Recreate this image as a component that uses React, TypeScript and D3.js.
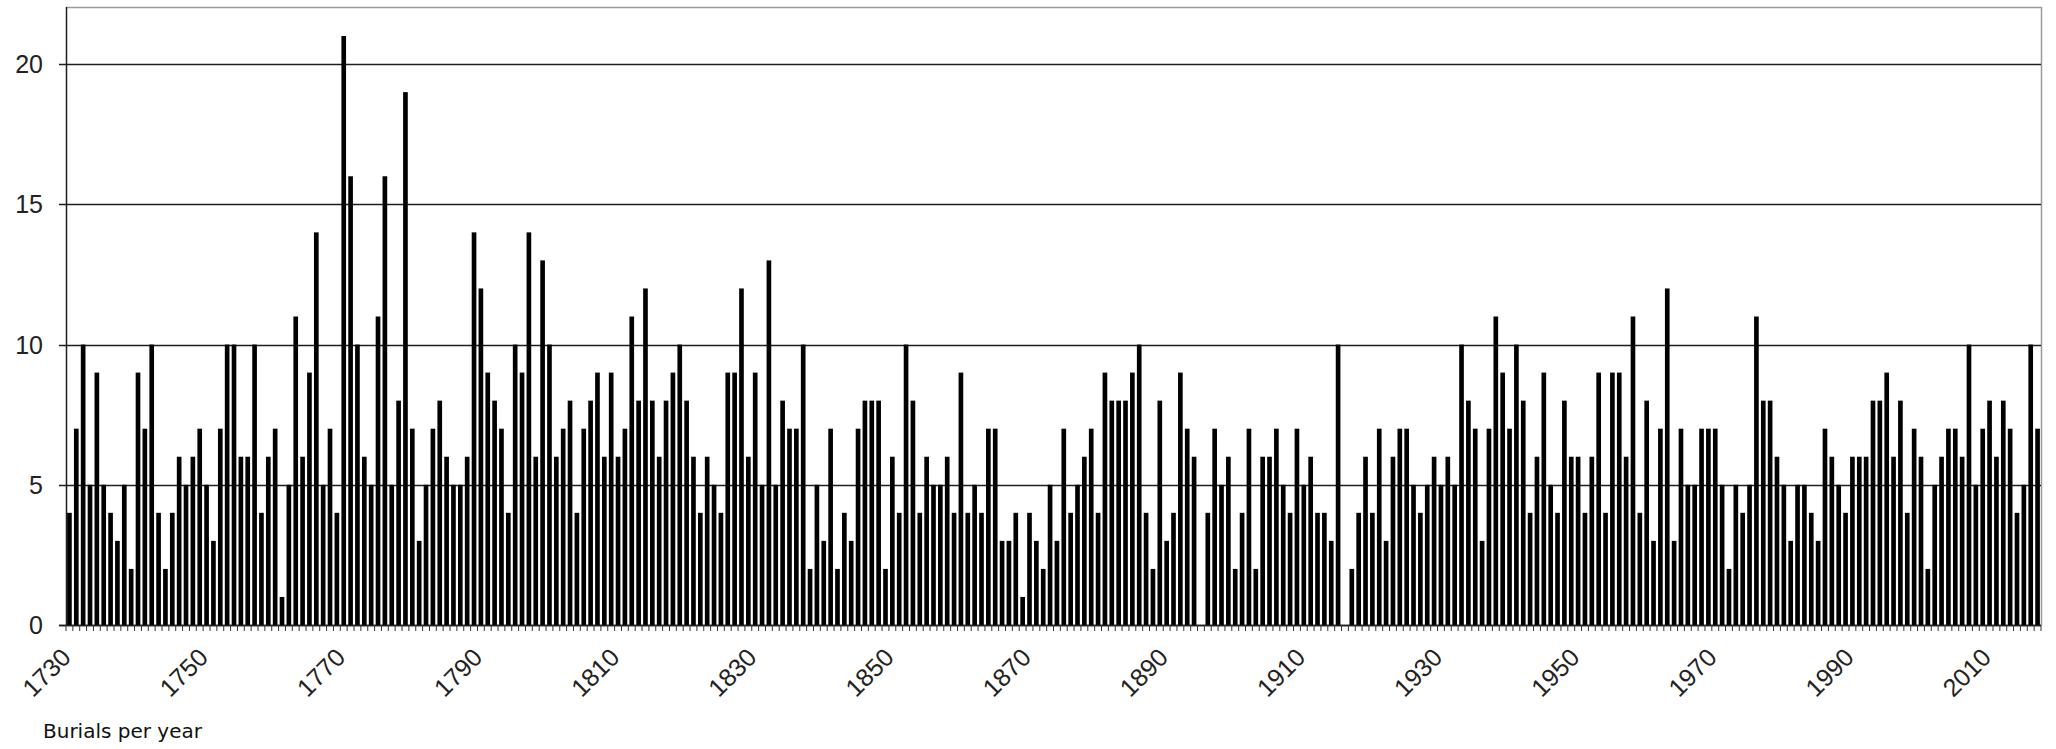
import React, { useEffect } from "react";
import * as d3 from "d3";

// Burials per year, one value per year from 1730 to 2017, grouped by decade
const burials1730s = [4, 7, 10, 5, 9, 5, 4, 3, 5, 2];
const burials1740s = [9, 7, 10, 4, 2, 4, 6, 5, 6, 7];
const burials1750s = [5, 3, 7, 10, 10, 6, 6, 10, 4, 6];
const burials1760s = [7, 1, 5, 11, 6, 9, 14, 5, 7, 4];
const burials1770s = [21, 16, 10, 6, 5, 11, 16, 5, 8, 19];
const burials1780s = [7, 3, 5, 7, 8, 6, 5, 5, 6, 14];
const burials1790s = [12, 9, 8, 7, 4, 10, 9, 14, 6, 13];
const burials1800s = [10, 6, 7, 8, 4, 7, 8, 9, 6, 9];
const burials1810s = [6, 7, 11, 8, 12, 8, 6, 8, 9, 10];
const burials1820s = [8, 6, 4, 6, 5, 4, 9, 9, 12, 6];
const burials1830s = [9, 5, 13, 5, 8, 7, 7, 10, 2, 5];
const burials1840s = [3, 7, 2, 4, 3, 7, 8, 8, 8, 2];
const burials1850s = [6, 4, 10, 8, 4, 6, 5, 5, 6, 4];
const burials1860s = [9, 4, 5, 4, 7, 7, 3, 3, 4, 1];
const burials1870s = [4, 3, 2, 5, 3, 7, 4, 5, 6, 7];
const burials1880s = [4, 9, 8, 8, 8, 9, 10, 4, 2, 8];
const burials1890s = [3, 4, 9, 7, 6, 0, 4, 7, 5, 6];
const burials1900s = [2, 4, 7, 2, 6, 6, 7, 5, 4, 7];
const burials1910s = [5, 6, 4, 4, 3, 10, 0, 2, 4, 6];
const burials1920s = [4, 7, 3, 6, 7, 7, 5, 4, 5, 6];
const burials1930s = [5, 6, 5, 10, 8, 7, 3, 7, 11, 9];
const burials1940s = [7, 10, 8, 4, 6, 9, 5, 4, 8, 6];
const burials1950s = [6, 4, 6, 9, 4, 9, 9, 6, 11, 4];
const burials1960s = [8, 3, 7, 12, 3, 7, 5, 5, 7, 7];
const burials1970s = [7, 5, 2, 5, 4, 5, 11, 8, 8, 6];
const burials1980s = [5, 3, 5, 5, 4, 3, 7, 6, 5, 4];
const burials1990s = [6, 6, 6, 8, 8, 9, 6, 8, 4, 7];
const burials2000s = [6, 2, 5, 6, 7, 7, 6, 10, 5, 7];
const burials2010s = [8, 6, 8, 7, 4, 5, 10, 7];

const firstYear = 1730;
const yTicks = [0, 5, 10, 15, 20];
const xLabelYears = [1730, 1750, 1770, 1790, 1810, 1830, 1850, 1870, 1890, 1910, 1930, 1950, 1970, 1990, 2010];
const caption = "Burials per year";

const values: number[] = [
  ...burials1730s, ...burials1740s, ...burials1750s, ...burials1760s, ...burials1770s,
  ...burials1780s, ...burials1790s, ...burials1800s, ...burials1810s, ...burials1820s,
  ...burials1830s, ...burials1840s, ...burials1850s, ...burials1860s, ...burials1870s,
  ...burials1880s, ...burials1890s, ...burials1900s, ...burials1910s, ...burials1920s,
  ...burials1930s, ...burials1940s, ...burials1950s, ...burials1960s, ...burials1970s,
  ...burials1980s, ...burials1990s, ...burials2000s, ...burials2010s,
];
const data = values.map((v, i) => ({ year: firstYear + i, value: v }));

const W = 2056;
const H = 749;
const left = 66;
const right = 2041;
const top = 7;
const bottom = 625;

export default function App() {
  useEffect(() => {
    document.body.style.margin = "0";
  }, []);

  const x = d3
    .scaleBand<number>()
    .domain(data.map((d) => d.year))
    .range([left, right])
    .paddingInner(0.32)
    .paddingOuter(0.16);

  const y = d3.scaleLinear().domain([0, 22]).range([bottom, top + 1]);

  const step = x.step();
  const boundaries = d3.range(data.length + 1).map((k) => left + k * step);
  const numFont = "'Liberation Sans', Arial, sans-serif";

  return (
    <svg
      width={W}
      height={H}
      style={{ position: "absolute", left: 0, top: 0, background: "#fff" }}
    >
      <rect x={0} y={0} width={W} height={H} fill="#fff" />
      {/* frame top & right */}
      <line x1={left} x2={right} y1={top + 0.5} y2={top + 0.5} stroke="#9a9a9a" strokeWidth={1.5} />
      <line x1={right + 0.5} x2={right + 0.5} y1={top} y2={bottom} stroke="#9a9a9a" strokeWidth={1.5} />

      {/* gridlines + y ticks */}
      {yTicks.map((t) => (
        <g key={t}>
          <line
            x1={left - 7}
            x2={right}
            y1={Math.round(y(t)) + 0.5}
            y2={Math.round(y(t)) + 0.5}
            stroke="#1e1e1e"
            strokeWidth={1.3}
          />
          <text
            x={43}
            y={y(t)}
            textAnchor="end"
            dominantBaseline="central"
            fontFamily={numFont}
            fontSize={25}
            fill="#222"
          >
            {t}
          </text>
        </g>
      ))}

      {/* bars */}
      {data.map((d) => (
        <rect
          key={d.year}
          x={x(d.year)}
          y={y(d.value)}
          width={x.bandwidth()}
          height={bottom - y(d.value)}
          fill="#000"
        />
      ))}

      {/* axes */}
      <line x1={left + 0.5} x2={left + 0.5} y1={top} y2={bottom} stroke="#1e1e1e" strokeWidth={1.5} />
      <line x1={left - 7} x2={right} y1={bottom + 0.5} y2={bottom + 0.5} stroke="#1e1e1e" strokeWidth={1.5} />

      {/* x ticks */}
      {boundaries.map((bx, k) => (
        <line key={k} x1={bx} x2={bx} y1={bottom} y2={bottom + 6} stroke="#333" strokeWidth={1} />
      ))}

      {/* x labels */}
      {xLabelYears.map((yr) => {
        const cx = (x(yr) ?? 0) + x.bandwidth() / 2 + 3;
        const cy = 659;
        return (
          <text
            key={yr}
            x={cx}
            y={cy}
            textAnchor="end"
            transform={`rotate(-45 ${cx} ${cy})`}
            fontFamily={numFont}
            fontSize={25}
            fill="#222"
          >
            {yr}
          </text>
        );
      })}

      <text x={43} y={738} fontFamily="'DejaVu Sans', Verdana, sans-serif" fontSize={20} fill="#111">
        {caption}
      </text>
    </svg>
  );
}
